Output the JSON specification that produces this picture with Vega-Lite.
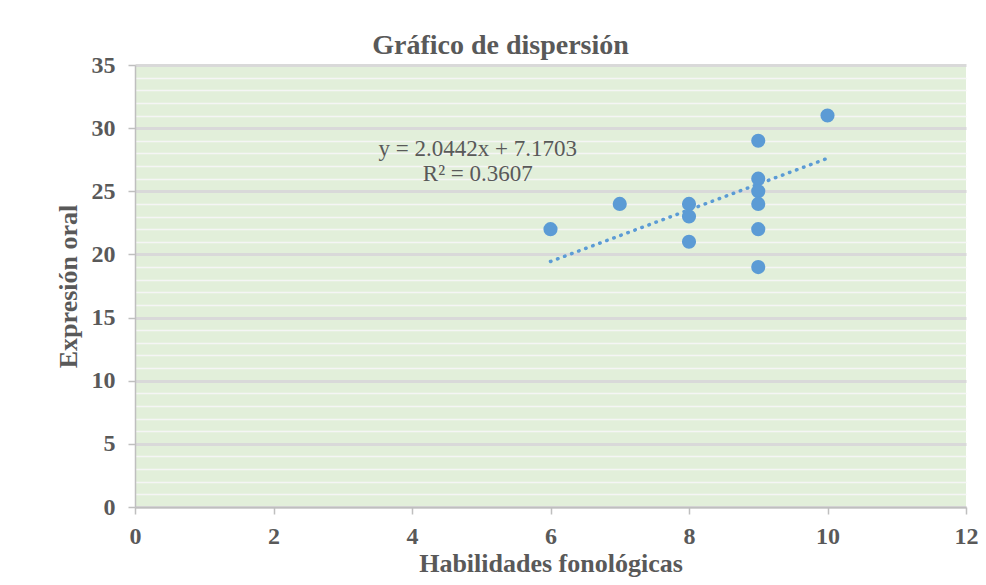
{
  "$schema": "https://vega.github.io/schema/vega-lite/v6.json",
  "autosize": {"type": "none"},
  "width": 831,
  "height": 442,
  "padding": {"left": 135, "top": 65, "right": 20, "bottom": 78},
  "background": "#ffffff",
  "config": {
    "view": {"fill": "#e2efda", "stroke": null},
    "font": "Liberation Serif",
    "axis": {
      "labelFont": "Liberation Serif",
      "titleFont": "Liberation Serif",
      "labelColor": "#595959",
      "titleColor": "#595959",
      "labelFontWeight": "bold",
      "titleFontWeight": "bold"
    }
  },
  "title": {
    "text": "Gráfico de dispersión",
    "font": "Liberation Serif",
    "fontSize": 28,
    "fontWeight": "bold",
    "color": "#595959",
    "anchor": "middle",
    "frame": "group",
    "dx": -50,
    "offset": -7
  },
  "datasets": {
    "puntos": [
      {"habilidades": 6, "expresion": 22},
      {"habilidades": 7, "expresion": 24},
      {"habilidades": 8, "expresion": 24},
      {"habilidades": 8, "expresion": 23},
      {"habilidades": 8, "expresion": 21},
      {"habilidades": 9, "expresion": 29},
      {"habilidades": 9, "expresion": 26},
      {"habilidades": 9, "expresion": 25},
      {"habilidades": 9, "expresion": 24},
      {"habilidades": 9, "expresion": 22},
      {"habilidades": 9, "expresion": 19},
      {"habilidades": 10, "expresion": 31}
    ],
    "tendencia": [
      {"habilidades": 6, "expresion": 19.44},
      {"habilidades": 10, "expresion": 27.61}
    ],
    "ecuacion": [
      {"habilidades": 4.95, "expresion": 28.35, "texto": "y = 2.0442x + 7.1703"},
      {"habilidades": 4.95, "expresion": 26.37, "texto": "R² = 0.3607"}
    ]
  },
  "resolve": {"axis": {"y": "independent"}},
  "layer": [
    {
      "data": {"name": "tendencia"},
      "mark": {"type": "line", "color": "#5b9bd5", "strokeWidth": 3.5, "strokeCap": "round", "strokeDash": [0.5, 7]},
      "encoding": {
        "x": {"field": "habilidades", "type": "quantitative", "scale": {"domain": [0, 12], "nice": false},
          "axis": {"values": [0, 2, 4, 6, 8, 10, 12], "format": "d", "grid": false, "labelFlush": false, "title": "Habilidades fonológicas",
            "titleFontSize": 26, "labelFontSize": 24, "tickSize": 7, "tickColor": "#bfbfbf",
            "domainColor": "#bfbfbf", "domainWidth": 1.5, "tickWidth": 1.5, "labelPadding": 10, "titlePadding": 2}},
        "y": {"field": "expresion", "type": "quantitative", "scale": {"domain": [0, 35], "nice": false},
          "axis": {"orient": "left", "values": [1,2,3,4,6,7,8,9,11,12,13,14,16,17,18,19,21,22,23,24,26,27,28,29,31,32,33,34],
            "grid": true, "gridColor": "#f5f5f5", "gridWidth": 1.5, "labels": false, "ticks": false, "domain": false, "title": null}}
      }
    },
    {
      "data": {"name": "puntos"},
      "mark": {"type": "circle", "size": 200, "color": "#5b9bd5", "opacity": 1},
      "encoding": {
        "x": {"field": "habilidades", "type": "quantitative"},
        "y": {"field": "expresion", "type": "quantitative",
          "axis": {"orient": "left", "values": [0, 5, 10, 15, 20, 25, 30, 35], "format": "d", "labelFlush": false, "grid": true, "gridColor": "#d9d9d9", "gridWidth": 3,
            "title": "Expresión oral", "titleFontSize": 26, "labelFontSize": 24, "tickSize": 7, "tickColor": "#bfbfbf", "tickWidth": 1.5,
            "domainColor": "#bfbfbf", "domainWidth": 1.5, "labelPadding": 13, "titlePadding": 10}}
      }
    },
    {
      "data": {"name": "ecuacion"},
      "mark": {"type": "text", "font": "Liberation Serif", "fontSize": 23, "color": "#595959", "align": "center", "baseline": "middle"},
      "encoding": {
        "x": {"field": "habilidades", "type": "quantitative"},
        "y": {"field": "expresion", "type": "quantitative", "axis": null},
        "text": {"field": "texto"}
      }
    }
  ]
}
